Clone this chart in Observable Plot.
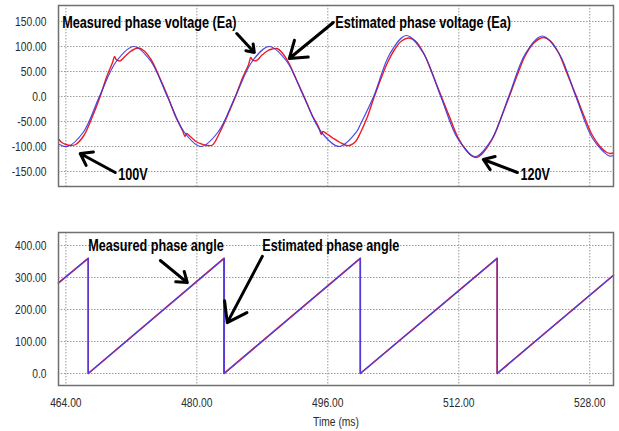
<!DOCTYPE html>
<html>
<head>
<meta charset="utf-8">
<script src="https://cdn.jsdelivr.net/npm/d3@7"></script>
<script src="https://cdn.jsdelivr.net/npm/@observablehq/plot@0.6"></script>
<style>
  html, body { margin: 0; padding: 0; background: #fff; }
  #wrap { position: relative; width: 619px; height: 431px; overflow: hidden; }
  #topPanel, #bottomPanel { position: absolute; left: 0; }
  #topPanel { top: 0; }
  #bottomPanel { top: 195px; }
</style>
</head>
<body>
<div id="wrap"><div id="topPanel"></div><div id="bottomPanel"></div></div>
<script>
// ---- tick values and labels ----
const timeTicks = [464, 480, 496, 512, 528];
const timeTickLabels = ["464.00", "480.00", "496.00", "512.00", "528.00"];
const voltTicks = [150, 100, 50, 0, -50, -100, -150];
const voltTickLabels = ["150.00", "100.00", "50.00", "0.0", "-50.00", "-100.00", "-150.00"];
const angleTicks = [400, 300, 200, 100, 0];
const angleTickLabels = ["400.00", "300.00", "200.00", "100.00", "0.0"];

// ---- estimated phase voltage (Ea) ----
const estVoltT = [463.1, 464.2, 466.15, 468.1, 470.2, 472.3, 474.35, 476.4, 478.45, 480.5,
  482.6, 484.7, 486.8, 488.85, 490.95, 493.05, 495.2, 497.4, 499.5, 500.0, 501.6, 503.6,
  505.6, 507.7, 509.8, 511.9, 514.0, 516.05, 518.1, 520.15, 522.2, 524.25, 526.3, 528.35,
  530.4, 530.9];
const estVoltV = [-95, -100, -71, 0, 71, 100, 71, 0, -71, -100,
  -71, 0, 71, 100, 71, 0, -71, -100, -71, -55, 0, 86,
  122, 86, 0, -85, -120, -85, 0, 86, 121, 86, 0, -84,
  -119, -118];

// ---- measured phase voltage (Ea) ----
const measVoltT = [463.1, 463.5, 464.0, 464.6, 465.2, 466.2, 467.2, 468.1, 469.0, 469.7,
  469.95, 470.15, 470.6, 471.2, 471.8, 472.4, 472.9, 473.5, 474.4, 475.4, 476.4, 477.4,
  478.3, 478.55, 478.75, 479.2, 479.9, 480.6, 481.3, 481.9, 482.8, 483.8, 484.7, 485.6,
  486.3, 486.6, 486.8, 487.3, 487.9, 488.6, 489.2, 489.8, 490.4, 491.2, 492.1, 493.1,
  494.1, 494.9, 495.2, 495.4, 495.9, 496.7, 497.5, 498.3, 498.8, 499.4, 500.0, 500.8,
  501.6, 502.5, 503.3, 504.2, 505.0, 505.9, 506.7, 507.7, 508.7, 509.8, 510.8, 511.9,
  512.9, 513.6, 514.1, 514.7, 516.1, 517.1, 518.1, 519.1, 520.1, 521.1, 521.9, 522.4,
  523.2, 524.2, 525.2, 526.3, 527.3, 528.3, 529.3, 530.0, 530.5, 530.9];
const measVoltV = [-85, -92, -96, -98, -96, -78, -42, -4, 40, 68,
  80, 74, 71, 80, 89, 95, 97, 92, 74, 40, 2, -40,
  -70, -80, -74, -80, -90, -95, -98, -97, -72, -36, -1, 38,
  63, 78, 73, 72, 82, 91, 95, 96, 88, 68, 36, 0,
  -38, -62, -76, -70, -75, -84, -92, -98, -97, -90, -72, -42,
  -4, 36, 68, 95, 111, 117, 111, 87, 48, 3, -38, -82,
  -107, -119, -122, -117, -85, -45, -3, 41, 81, 106, 116, 118,
  111, 87, 47, 3, -39, -77, -101, -111, -114, -113];

// ---- phase angle (sawtooth vertices) ----
const measAngleT = [463.1, 466.73, 466.73, 483.3, 483.3, 499.96, 499.96, 516.68, 516.68, 530.9];
const measAngleV = [283, 360, 0, 360, 0, 360, 0, 360, 0, 307];
const estAngleT = [463.1, 466.73, 466.73, 483.36, 483.36, 499.98, 499.98, 516.7, 516.7, 530.9];
const estAngleV = [283, 360, 0, 360, 0, 360, 0, 360, 0, 307];

// ---- annotations (data coordinates) ----
const voltNoteT = [463.55, 496.92, 470.39, 519.53];
const voltNoteV = [148, 148, -156, -156];
const voltNoteText = ["Measured phase voltage (Ea)", "Estimated phase voltage (Ea)", "100V", "120V"];
const voltArrowT1 = [484.88, 496.67, 470.03, 519.16];
const voltArrowV1 = [126, 148, -152, -152];
const voltArrowT2 = [487.02, 491.3, 465.75, 515.0];
const voltArrowV2 = [88, 76, -114, -126];

const angleNoteT = [466.73, 488.0];
const angleNoteV = [400, 400];
const angleNoteText = ["Measured phase angle", "Estimated phase angle"];
const angleArrowT1 = [475.54, 488.0];
const angleArrowV1 = [353, 366];
const angleArrowT2 = [478.84, 483.72];
const angleArrowV2 = [284, 159];

// ---- build tables ----
const zip = (ts, vs) => ts.map((t, i) => ({t, v: vs[i]}));
const estVolt = zip(estVoltT, estVoltV);
const measVolt = zip(measVoltT, measVoltV);
const measAngle = zip(measAngleT, measAngleV);
const estAngle = zip(estAngleT, estAngleV);
const voltNotes = voltNoteT.map((t, i) => ({t, v: voltNoteV[i], text: voltNoteText[i]}));
const voltArrows = voltArrowT1.map((t, i) => ({t1: t, v1: voltArrowV1[i], t2: voltArrowT2[i], v2: voltArrowV2[i]}));
const angleNotes = angleNoteT.map((t, i) => ({t, v: angleNoteV[i], text: angleNoteText[i]}));
const angleArrows = angleArrowT1.map((t, i) => ({t1: t, v1: angleArrowV1[i], t2: angleArrowT2[i], v2: angleArrowV2[i]}));

const FONT = "'Liberation Sans', Arial, sans-serif";
const RED = "#ee1c24";
const BLUE = "#3434e0";
const GRID = {stroke: "#9a9a9a", strokeOpacity: 1, strokeDasharray: "1.5,1.5", strokeWidth: 1};
const xDomain = [463.1, 530.9];
const lbl = (ticks, labels) => d => labels[ticks.indexOf(d)];

const topChart = Plot.plot({
  width: 619, height: 195,
  marginLeft: 58, marginRight: 6, marginTop: 5, marginBottom: 9,
  style: {fontSize: "13px", fontFamily: FONT, color: "#2a2a2a", background: "white"},
  x: {domain: xDomain, axis: null},
  y: {domain: [-180, 182]},
  marks: [
    Plot.gridX(timeTicks, GRID),
    Plot.gridY(voltTicks, GRID),
    Plot.axisY(voltTicks, {tickSize: 0, tickPadding: 12, tickFormat: lbl(voltTicks, voltTickLabels), label: null, fontSize: 13}),
    Plot.line(measVolt, {x: "t", y: "v", stroke: RED, strokeWidth: 1.4, curve: "catmull-rom"}),
    Plot.line(estVolt, {x: "t", y: "v", stroke: BLUE, strokeWidth: 1.2, strokeOpacity: 0.9, curve: "catmull-rom"}),
    Plot.frame({stroke: "#707070", strokeWidth: 1.5}),
    Plot.arrow(voltArrows, {x1: "t1", y1: "v1", x2: "t2", y2: "v2", stroke: "black", strokeWidth: 3, headLength: 11, headAngle: 70}),
    Plot.text(voltNotes, {x: "t", y: "v", text: "text", textAnchor: "start", fontSize: 16, fontWeight: "bold", fontFamily: FONT, fill: "black"})
  ]
});
document.getElementById("topPanel").appendChild(topChart);

const bottomChart = Plot.plot({
  width: 619, height: 236,
  marginLeft: 58, marginRight: 6, marginTop: 37, marginBottom: 46,
  style: {fontSize: "13px", fontFamily: FONT, color: "#2a2a2a", background: "white"},
  x: {domain: xDomain},
  y: {domain: [-37.5, 440.6]},
  marks: [
    Plot.gridX(timeTicks, GRID),
    Plot.gridY(angleTicks, GRID),
    Plot.axisY(angleTicks, {tickSize: 0, tickPadding: 12, tickFormat: lbl(angleTicks, angleTickLabels), label: null, fontSize: 13}),
    Plot.axisX(timeTicks, {tickSize: 0, tickPadding: 12, tickFormat: lbl(timeTicks, timeTickLabels), label: "Time (ms)", labelAnchor: "center", labelArrow: "none", labelOffset: 40, fontSize: 13}),
    Plot.line(measAngle, {x: "t", y: "v", stroke: RED, strokeWidth: 1.6}),
    Plot.line(estAngle, {x: "t", y: "v", stroke: "#4b3ce2", strokeWidth: 1.4, strokeOpacity: 0.95}),
    Plot.frame({stroke: "#707070", strokeWidth: 1.5}),
    Plot.arrow(angleArrows, {x1: "t1", y1: "v1", x2: "t2", y2: "v2", stroke: "black", strokeWidth: 3, headLength: 11, headAngle: 70}),
    Plot.text(angleNotes, {x: "t", y: "v", text: "text", textAnchor: "start", fontSize: 16, fontWeight: "bold", fontFamily: FONT, fill: "black"})
  ]
});
document.getElementById("bottomPanel").appendChild(bottomChart);

// condensed look of the original font: squeeze every text horizontally
document.querySelectorAll("#wrap svg text").forEach(el => {
  const w = el.getComputedTextLength();
  if (w > 0) {
    el.setAttribute("textLength", (w * 0.79).toFixed(2));
    el.setAttribute("lengthAdjust", "spacingAndGlyphs");
  }
});
</script>
</body>
</html>
